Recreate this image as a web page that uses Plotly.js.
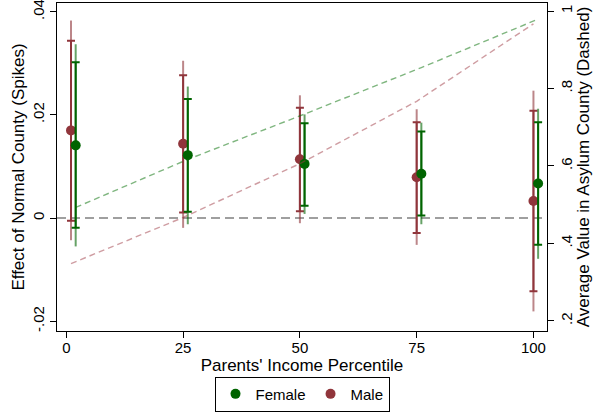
<!DOCTYPE html>
<html>
<head>
<meta charset="utf-8">
<script src="https://cdn.plot.ly/plotly-3.0.1.min.js"></script>
<style>
  body { margin: 0; background: #fff; }
  #chart { width: 593px; height: 412px; }
</style>
</head>
<body>
<div id="chart"></div>
<script>
// income percentile positions (male / female drawn a little apart)
const maleX   = [1, 25, 50, 75, 100];
const femaleX = [2, 26, 51, 76, 101];

// effect of normal county, point estimates
const maleEst   = [0.0170, 0.0144, 0.0114, 0.0079, 0.0033];
const femaleEst = [0.0141, 0.0122, 0.0105, 0.0086, 0.0067];

// inner interval (with caps)
const maleLo   = [-0.0005, 0.0011, 0.0013, -0.0029, -0.0142];
const maleHi   = [0.0344, 0.0277, 0.0214, 0.0186, 0.0208];
const femaleLo = [-0.0019, 0.0012, 0.0024, 0.0005, -0.0052];
const femaleHi = [0.0302, 0.0231, 0.0184, 0.0168, 0.0186];

// outer interval (plain spike)
const maleLo2   = [-0.0043, -0.0019, -0.0010, -0.0052, -0.0181];
const maleHi2   = [0.0383, 0.0305, 0.0238, 0.0211, 0.0247];
const femaleLo2 = [-0.0055, -0.0012, 0.0008, -0.0012, -0.0079];
const femaleHi2 = [0.0337, 0.0255, 0.0201, 0.0185, 0.0212];

// average value in asylum county (dashed lines, right axis)
const femaleAvg = [0.493, 0.617, 0.734, 0.854, 0.979];
const maleAvg   = [0.348, 0.467, 0.606, 0.767, 0.967];

const xTicks  = [0, 25, 50, 75, 100];
const yTicks  = [-0.02, 0, 0.02, 0.04];
const yLabels = ["-.02", "0", ".02", ".04"];
const y2Ticks  = [0.2, 0.4, 0.6, 0.8, 1];
const y2Labels = [".2", ".4", ".6", ".8", "1"];

const green = "rgb(0,100,0)";
const maroon = "rgb(144,53,59)";
const FONT = "Liberation Sans, Arial, sans-serif";

function diff(a, b) { return a.map((v, i) => v - b[i]); }

function spikes(x, est, lo, hi, color, capw, thick) {
  return {
    x: x, y: est, type: "scatter", mode: "markers",
    marker: { color: "rgba(0,0,0,0)", size: 1 },
    error_y: {
      type: "data", symmetric: false,
      array: diff(hi, est), arrayminus: diff(est, lo),
      color: color, thickness: thick, width: capw
    },
    showlegend: false, hoverinfo: "skip"
  };
}

var data = [
  {
    x: femaleX, y: femaleAvg, yaxis: "y2", type: "scatter", mode: "lines",
    line: { color: "rgba(0,110,0,0.5)", width: 1.4, dash: "6px,4px" },
    showlegend: false, hoverinfo: "skip"
  },
  {
    x: maleX, y: maleAvg, yaxis: "y2", type: "scatter", mode: "lines",
    line: { color: "rgba(160,60,70,0.5)", width: 1.4, dash: "6px,4px" },
    showlegend: false, hoverinfo: "skip"
  },
  spikes(maleX, maleEst, maleLo2, maleHi2, "rgba(144,53,59,0.6)", 0, 2),
  spikes(maleX, maleEst, maleLo, maleHi, maroon, 4, 2),
  {
    x: maleX, y: maleEst, type: "scatter", mode: "markers",
    marker: { color: maroon, size: 10 }, showlegend: false
  },
  spikes(femaleX, femaleEst, femaleLo2, femaleHi2, "rgba(0,100,0,0.6)", 0, 2),
  spikes(femaleX, femaleEst, femaleLo, femaleHi, green, 4, 2),
  {
    x: femaleX, y: femaleEst, type: "scatter", mode: "markers",
    marker: { color: green, size: 10 }, showlegend: false
  },
  // legend entries only
  { x: [null], y: [null], type: "scatter", mode: "markers", name: "Female",
    marker: { color: green, size: 10 } },
  { x: [null], y: [null], type: "scatter", mode: "markers", name: "Male",
    marker: { color: maroon, size: 10 } }
];

var layout = {
  width: 593, height: 412,
  margin: { l: 57, r: 46, t: 3, b: 81, autoexpand: false },
  paper_bgcolor: "#fff", plot_bgcolor: "#fff",
  font: { family: FONT, size: 14, color: "#000" },
  showlegend: true,
  legend: {
    orientation: "h", x: 0.5, xanchor: "center", y: -0.139, yanchor: "top",
    bordercolor: "#000", borderwidth: 1, font: { size: 15 },
    itemwidth: 30, tracegroupgap: 0
  },
  xaxis: {
    range: [-2, 102.9], tickvals: xTicks, ticks: "outside", ticklen: 6,
    tickcolor: "#000", showline: true, linecolor: "#000", linewidth: 1.3,
    mirror: true, showgrid: false, zeroline: false,
    tickfont: { size: 15 }, ticklabelstandoff: -3,
    title: { text: "Parents' Income Percentile", standoff: 2 }
  },
  yaxis: {
    range: [-0.0219, 0.0417], tickvals: yTicks, ticktext: yLabels,
    tickangle: -90, ticks: "outside", ticklen: 6, tickcolor: "#000",
    ticklabeloverflow: "allow",
    showline: true, linecolor: "#000", linewidth: 1.3,
    showgrid: false, zeroline: false, tickfont: { size: 15 },
    title: { text: "Effect of Normal County (Spikes)", standoff: 0 }
  },
  yaxis2: {
    overlaying: "y", side: "right",
    range: [0.174, 1.0207], tickvals: y2Ticks, ticktext: y2Labels,
    tickangle: -90, ticks: "outside", ticklen: 6, tickcolor: "#000",
    ticklabeloverflow: "allow",
    showline: true, linecolor: "#000", linewidth: 1.3,
    showgrid: false, zeroline: false, tickfont: { size: 15 },
    title: { text: "Average Value in Asylum County (Dashed)", standoff: 0 }
  },
  shapes: [{
    type: "line", xref: "paper", x0: 0, x1: 1, yref: "y", y0: 0, y1: 0,
    line: { color: "#808080", width: 1.5, dash: "9px,5px" }, layer: "below"
  }]
};

Plotly.newPlot("chart", data, layout, { displayModeBar: false, staticPlot: true });
</script>
</body>
</html>
